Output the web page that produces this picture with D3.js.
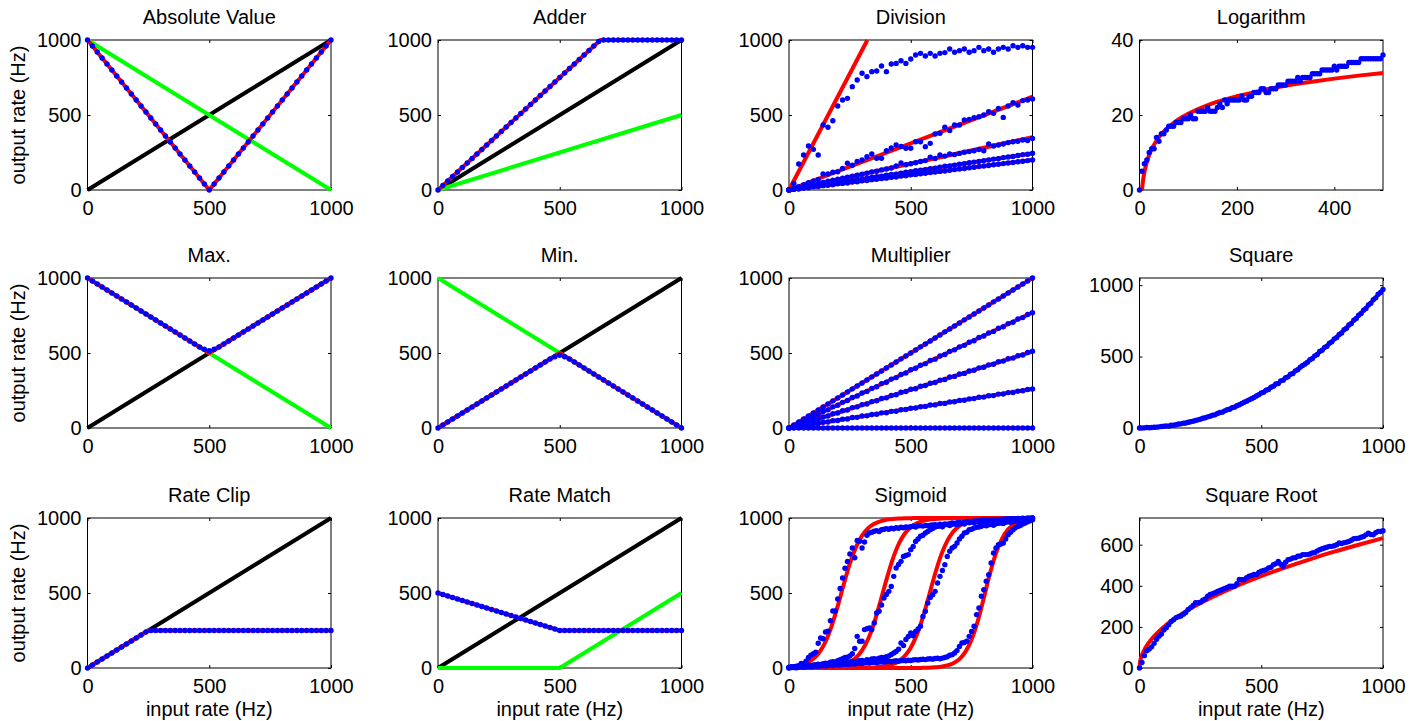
<!DOCTYPE html>
<html>
<head>
<meta charset="utf-8">
<script src="https://cdn.jsdelivr.net/npm/d3@7"></script>
<style>
  body { margin: 0; background: #fff; }
  svg { display: block; }
</style>
</head>
<body>
<svg id="chart" width="1423" height="721"></svg>
<script>
// sample grids (input rate, Hz)
const x20 = [0,20,40,60,80,100,120,140,160,180,200,220,240,260,280,300,320,340,360,380,400,420,440,460,480,500,520,540,560,580,600,620,640,660,680,700,720,740,760,780,800,820,840,860,880,900,920,940,960,980,1000];
const x10 = [0,10,20,30,40,50,60,70,80,90,100,110,120,130,140,150,160,170,180,190,200,210,220,230,240,250,260,270,280,290,300,310,320,330,340,350,360,370,380,390,400,410,420,430,440,450,460,470,480,490,500,510,520,530,540,550,560,570,580,590,600,610,620,630,640,650,660,670,680,690,700,710,720,730,740,750,760,770,780,790,800,810,820,830,840,850,860,870,880,890,900,910,920,930,940,950,960,970,980,990,1000];
const x5 = [0,5,10,15,20,25,30,35,40,45,50,55,60,65,70,75,80,85,90,95,100,105,110,115,120,125,130,135,140,145,150,155,160,165,170,175,180,185,190,195,200,205,210,215,220,225,230,235,240,245,250,255,260,265,270,275,280,285,290,295,300,305,310,315,320,325,330,335,340,345,350,355,360,365,370,375,380,385,390,395,400,405,410,415,420,425,430,435,440,445,450,455,460,465,470,475,480,485,490,495,500];
const x25 = [0,25,50,75,100,125,150,175,200,225,250,275,300,325,350,375,400,425,450,475,500,525,550,575,600,625,650,675,700,725,750,775,800,825,850,875,900,925,950,975,1000];

// input lines (black = input A, green = input B)
const endX = [0,1000];
const riseY = [0,1000];
const fallY = [1000,0];
const adderGreenY = [0,500];
const matchGreenX = [0,500,1000];
const matchGreenY = [0,0,500];

// expected outputs (red)
const absRedX = [0,500,1000], absRedY = [1000,0,1000];
const adderRedX = [0,667,1000], adderRedY = [0,1000,1000];
const maxRedX = [0,500,1000], maxRedY = [1000,500,1000];
const minRedX = [0,500,1000], minRedY = [0,500,0];
const clipRedX = [0,250,1000], clipRedY = [0,250,250];
const matchRedX = [0,500,1000], matchRedY = [500,250,250];
const divRed1X = [0,322], divRed1Y = [0,1000];
const divRed2Y = [0,622], divRed3Y = [0,352], divRed4Y = [0,244], divRed5Y = [0,200];
const mulRed1Y = [0,1000], mulRed2Y = [0,770], mulRed3Y = [0,510], mulRed4Y = [0,260], mulRed5Y = [0,0];
const logRedX = [5,7,10,15,20,30,40,50,75,100,150,200,250,300,350,400,450,500];
const logRedY = [0,2.3,4.7,7.4,9.4,12.1,14.1,15.6,18.4,20.3,23.1,25.0,26.5,27.8,28.8,29.7,30.5,31.2];
const sqRedX = [0,100,200,300,400,500,600,700,800,900,1000];
const sqRedY = [0,10,39,87,155,243,349,476,621,786,970];
const sqrtRedX = [0,2,5,10,25,50,100,150,200,300,400,500,600,700,800,900,1000];
const sqrtRedY = [0,28,45,63,100,141,200,245,283,346,400,447,490,529,566,600,632];
const sigRed1 = [6,11,19,34,61,105,175,279,412,559,697,806,883,932,961,978,988,993,996,998,999,1000,1000,1000,1000,1000,1000,1000,1000,1000,1000,1000,1000,1000,1000,1000,1000,1000,1000,1000,1000];
const sigRed2 = [0,0,0,1,1,2,4,7,12,22,39,68,117,193,303,441,588,721,825,895,939,965,981,989,994,997,998,999,1000,1000,1000,1000,1000,1000,1000,1000,1000,1000,1000,1000,1000];
const sigRed3 = [0,0,0,0,0,0,0,0,0,0,0,0,1,2,4,8,14,25,45,79,135,221,339,482,628,754,847,910,948,971,984,991,995,997,999,1000,1000,1000,1000,1000,1000];
const sigRed4 = [0,0,0,0,0,0,0,0,0,0,0,0,0,0,0,0,0,0,0,0,0,0,1,2,5,9,17,32,59,109,190,312,467,628,766,863,924,959,979,989,994];

// measured outputs (blue dots)
const absDots = [1000,960,920,880,840,800,760,720,680,640,600,560,520,480,440,400,360,320,280,240,200,160,120,80,40,0,40,80,120,160,200,240,280,320,360,400,440,480,520,560,600,640,680,720,760,800,840,880,920,960,1000];
const adderDots = [0,30,60,90,120,150,180,210,240,270,300,330,360,390,420,450,480,510,540,570,600,630,660,690,720,750,780,810,840,870,900,930,960,990,1000,1000,1000,1000,1000,1000,1000,1000,1000,1000,1000,1000,1000,1000,1000,1000,1000];
const maxDots = [1000,980,960,940,920,900,880,860,840,820,800,780,760,740,720,700,680,660,640,620,600,580,560,540,525,515,525,540,560,580,600,620,640,660,680,700,720,740,760,780,800,820,840,860,880,900,920,940,960,980,1000];
const minDots = [0,20,40,60,80,100,120,140,160,180,200,220,240,260,280,300,320,340,360,380,400,420,440,460,475,485,475,460,440,420,400,380,360,340,320,300,280,260,240,220,200,180,160,140,120,100,80,60,40,20,0];
const clipDots = [0,20,40,60,80,100,120,140,160,180,200,220,240,250,250,250,250,250,250,250,250,250,250,250,250,250,250,250,250,250,250,250,250,250,250,250,250,250,250,250,250,250,250,250,250,250,250,250,250,250,250];
const matchDots = [500,490,480,470,460,450,440,430,420,410,400,390,380,370,360,350,340,330,320,310,300,290,280,270,260,250,250,250,250,250,250,250,250,250,250,250,250,250,250,250,250,250,250,250,250,250,250,250,250,250,250];
const divDots1 = [0,44,173,233,293,271,233,433,418,462,560,600,611,689,733,778,756,789,793,827,789,840,844,862,844,873,900,911,893,911,893,911,916,940,918,929,940,918,929,951,929,940,918,940,951,940,962,951,962,951,951];
const divDots2 = [0,10,22,35,48,60,70,107,107,118,122,144,178,165,190,200,222,240,211,211,262,280,300,290,278,278,322,322,289,311,373,378,418,396,433,433,467,471,482,489,500,522,511,544,484,560,582,567,596,600,607];
const divDots3 = [0,8,15,22,30,36,42,50,58,66,72,78,85,92,98,105,112,120,125,134,140,147,160,180,168,175,182,190,196,218,210,233,226,240,236,244,252,256,262,270,262,307,293,300,307,316,322,325,333,330,344];
const divDots4 = [0,5,10,15,19,24,30,34,40,44,50,54,58,64,70,73,78,84,88,92,98,104,106,112,118,122,128,132,136,142,146,152,158,160,166,172,176,182,186,190,196,200,206,208,216,220,224,230,236,238,245];
const divDots5 = [0,5,7,13,15,21,23,29,32,35,41,44,47,53,55,61,63,69,71,77,79,85,87,93,95,101,103,108,112,116,120,124,127,132,136,140,143,148,152,156,160,163,168,172,176,180,183,188,192,196,200];
const mulDots1 = [0,20,40,61,80,100,121,140,160,181,200,220,240,261,280,300,320,341,360,380,400,420,440,461,480,500,520,541,560,580,600,620,641,660,680,700,721,740,760,780,800,820,841,860,880,900,920,940,960,980,1000];
const mulDots2 = [0,16,29,48,60,79,90,110,121,141,152,171,183,203,213,233,244,264,275,296,305,326,336,357,367,388,398,418,429,450,459,480,490,511,521,541,551,572,582,603,613,634,644,665,675,696,705,727,736,757,768];
const mulDots3 = [0,11,19,33,39,53,59,74,80,95,100,115,120,136,141,156,160,176,182,197,201,217,222,238,243,258,262,278,283,299,303,319,323,340,344,360,364,380,385,401,405,421,425,442,446,462,466,482,487,503,512];
const mulDots4 = [0,6,9,18,20,28,30,38,40,49,50,59,60,70,71,80,81,90,92,101,102,111,112,122,123,132,133,142,144,153,154,163,164,174,175,184,185,194,196,205,206,215,216,226,227,236,237,246,248,257,260];
const mulDots5 = [0,0,0,0,0,0,0,0,0,0,0,0,0,0,0,0,0,0,0,0,0,0,0,0,0,0,0,0,0,0,0,0,0,0,0,0,0,0,0,0,0,0,0,0,0,0,0,0,0,0,0];
const logDots = [0,5,7,8,10,11,11,14,13,15, 15,16,17,17,17,18,18,18,19,19, 19,20,19,19,21,21,21,21,22,21, 21,21,22,23,22,24,23,24,24,24, 24,24,25,24,24,25,25,26,26,26, 27,27,26,26,27,27,27,28,28,28, 28,29,29,29,29,30,29,30,30,30, 30,31,31,31,31,32,32,32,32,32, 33,32,33,33,33,33,34,34,34,34, 34,35,35,35,35,35,35,35,35,35, 36];
const sqDots = [0,0,1,3,2,4,5,6,8,10, 12,15,13,19,20,23,28,29,34,35, 40,44,48,52,57,62,68,72,78,83, 90,92,101,108,111,120,128,131,142,146, 156,163,172,180,188,197,205,214,224,233, 245,250,264,270,285,292,308,312,330,335, 352,358,376,382,400,408,426,438,448,460, 478,487,505,515,535,544,563,572,593,603, 624,634,655,665,688,698,721,732,755,766, 789,801,825,837,861,873,898,911,936,948, 970];
const sqrtDots = [0,27,60,84,92,103,120,140,155,165, 185,196,210,226,235,245,250,253,262,270, 285,294,305,318,318,320,330,336,350,358, 362,366,372,377,382,387,392,398,398,398, 410,431,430,431,440,447,450,455,455,465, 471,475,479,487,490,503,508,519,505,495, 515,527,530,535,537,544,545,552,552,552, 555,560,562,570,576,580,584,588,592,592, 595,600,608,606,610,612,616,622,629,630, 632,636,640,648,656,650,648,658,665,664, 668];
const sigDots1 = [5,8,3,12,15,30,28,45,70,85, 95,105,165,200,195,240,245,315,380,380, 460,530,600,665,710,760,800,735,850,845, 800,840,885,900,905,912,916,910,922,925, 929,925,932,928,935,932,938,935,940,938, 942,945,940,948,949,946,950,948,952,954, 956,952,958,955,960,958,962,967,963,968, 970,966,972,975,978,974,980,978,982,985, 988,985,989,986,990,988,991,990,992,993, 995,993,996,995,997,996,998,997,998,999, 1000];
const sigDots2 = [3,5,8,6,10,12,10,15,18,16, 20,22,25,24,28,32,30,38,42,40, 48,55,62,70,72,80,95,130,211,178, 178,256,262,267,256,300,367,378,420,467, 490,511,544,611,667,690,711,744,750,756, 789,810,844,860,878,885,900,910,922,930, 940,944,948,942,955,956,950,958,962,957, 962,966,960,970,968,973,970,976,972,978, 978,982,979,984,985,983,988,986,990,991, 992,990,994,995,993,996,997,996,998,999, 1000];
const sigDots3 = [2,4,6,3,8,10,8,12,14,12, 16,18,15,20,22,20,25,24,28,30, 28,32,35,33,38,40,42,40,45,48, 50,45,55,52,60,62,58,65,70,68, 75,80,90,100,110,125,167,150,190,210, 233,215,244,260,278,344,378,433,470,489, 511,567,611,650,689,744,778,800,811,833, 860,878,900,905,922,925,933,938,940,945, 951,948,955,958,952,962,965,967,963,972, 975,971,978,980,982,985,988,990,993,995, 997];
const sigDots4 = [0,3,5,2,6,8,5,9,10,8, 12,14,11,15,16,14,18,20,17,21, 22,20,24,26,23,27,28,26,30,32, 30,34,35,33,37,38,36,40,42,39, 43,45,42,46,48,45,49,50,48,52, 50,54,56,53,57,58,56,60,62,59, 63,65,62,66,70,75,85,89,100,116, 144,167,170,178,211,244,278,356,400,478, 522,578,622,700,767,800,822,827,833,860, 889,905,922,935,944,950,960,967,975,982, 989];

// panel titles and axis ticks
const titles = ['Absolute Value','Adder','Division','Logarithm','Max.','Min.','Multiplier','Square','Rate Clip','Rate Match','Sigmoid','Square Root'];
const ticks1000 = [0,500,1000];
const logXTicks = [0,200,400], logYTicks = [0,20,40];
const sqrtYTicks = [0,200,400,600];

const BLACK = '#000000', GREEN = '#00ff00', RED = '#ff0000', BLUE = '#0000ff';
const FONT = '"Liberation Sans", Arial, Helvetica, sans-serif';

function ln(xs, ys, color, smooth) { return {xs, ys, color, smooth: !!smooth}; }
function dots(xs, ys) { return {xs, ys}; }

const panels = [
  {xd:[0,1000], yd:[0,1000], xt:ticks1000, yt:ticks1000,
   lines:[ln(endX, riseY, BLACK), ln(endX, fallY, GREEN), ln(absRedX, absRedY, RED)],
   dots:[dots(x20, absDots)]},
  {xd:[0,1000], yd:[0,1000], xt:ticks1000, yt:ticks1000,
   lines:[ln(endX, riseY, BLACK), ln(endX, adderGreenY, GREEN), ln(adderRedX, adderRedY, RED)],
   dots:[dots(x20, adderDots)]},
  {xd:[0,1000], yd:[0,1000], xt:ticks1000, yt:ticks1000,
   lines:[ln(divRed1X, divRed1Y, RED), ln(endX, divRed2Y, RED), ln(endX, divRed3Y, RED), ln(endX, divRed4Y, RED), ln(endX, divRed5Y, RED)],
   dots:[dots(x20, divDots1), dots(x20, divDots2), dots(x20, divDots3), dots(x20, divDots4), dots(x20, divDots5)]},
  {xd:[0,500], yd:[0,40], xt:logXTicks, yt:logYTicks,
   lines:[ln(logRedX, logRedY, RED, true)],
   dots:[dots(x5, logDots)]},
  {xd:[0,1000], yd:[0,1000], xt:ticks1000, yt:ticks1000,
   lines:[ln(endX, riseY, BLACK), ln(endX, fallY, GREEN), ln(maxRedX, maxRedY, RED)],
   dots:[dots(x20, maxDots)]},
  {xd:[0,1000], yd:[0,1000], xt:ticks1000, yt:ticks1000,
   lines:[ln(endX, riseY, BLACK), ln(endX, fallY, GREEN), ln(minRedX, minRedY, RED)],
   dots:[dots(x20, minDots)]},
  {xd:[0,1000], yd:[0,1000], xt:ticks1000, yt:ticks1000,
   lines:[ln(endX, mulRed1Y, RED), ln(endX, mulRed2Y, RED), ln(endX, mulRed3Y, RED), ln(endX, mulRed4Y, RED), ln(endX, mulRed5Y, RED)],
   dots:[dots(x20, mulDots1), dots(x20, mulDots2), dots(x20, mulDots3), dots(x20, mulDots4), dots(x20, mulDots5)]},
  {xd:[0,1000], yd:[0,1050], xt:ticks1000, yt:ticks1000,
   lines:[ln(sqRedX, sqRedY, RED, true)],
   dots:[dots(x10, sqDots)]},
  {xd:[0,1000], yd:[0,1000], xt:ticks1000, yt:ticks1000,
   lines:[ln(endX, riseY, BLACK), ln(clipRedX, clipRedY, RED)],
   dots:[dots(x20, clipDots)]},
  {xd:[0,1000], yd:[0,1000], xt:ticks1000, yt:ticks1000,
   lines:[ln(endX, riseY, BLACK), ln(matchGreenX, matchGreenY, GREEN), ln(matchRedX, matchRedY, RED)],
   dots:[dots(x20, matchDots)]},
  {xd:[0,1000], yd:[0,1000], xt:ticks1000, yt:ticks1000,
   lines:[ln(x25, sigRed1, RED, true), ln(x25, sigRed2, RED, true), ln(x25, sigRed3, RED, true), ln(x25, sigRed4, RED, true)],
   dots:[dots(x10, sigDots1), dots(x10, sigDots2), dots(x10, sigDots3), dots(x10, sigDots4)]},
  {xd:[0,1000], yd:[0,730], xt:ticks1000, yt:sqrtYTicks,
   lines:[ln(sqrtRedX, sqrtRedY, RED, true)],
   dots:[dots(x10, sqrtDots)]}
];

// layout
const lefts = [87.5, 438, 789, 1139.5];
const tops = [40, 278, 518];
const W = 243.5, H = 150;
const fmt = d3.format('d');

const svg = d3.select('#chart');
svg.append('rect').attr('width', 1423).attr('height', 721).attr('fill', '#fff');

panels.forEach((p, i) => {
    const col = i % 4, row = Math.floor(i / 4);
    const g = svg.append('g').attr('transform', `translate(${lefts[col]},${tops[row]})`);

    const x = d3.scaleLinear().domain(p.xd).range([0, W]);
    const y = d3.scaleLinear().domain(p.yd).range([H, 0]);

    g.append('rect')
        .attr('width', W).attr('height', H)
        .attr('fill', 'none').attr('stroke', '#000').attr('stroke-width', 1);

    // ticks on all four sides, pointing inward (labels on left and bottom only)
    const axes = [
        {a: d3.axisBottom(x).tickValues(p.xt).tickFormat(fmt).tickPadding(11), t: `translate(0,${H})`},
        {a: d3.axisTop(x).tickValues(p.xt).tickFormat(() => ''), t: 'translate(0,0)'},
        {a: d3.axisLeft(y).tickValues(p.yt).tickFormat(fmt).tickPadding(6), t: 'translate(0,0)'},
        {a: d3.axisRight(y).tickValues(p.yt).tickFormat(() => ''), t: `translate(${W},0)`}
    ];
    axes.forEach(ax => {
        const ag = g.append('g').attr('transform', ax.t)
            .call(ax.a.tickSize(-3))
            .attr('font-size', 20)
            .attr('font-family', FONT);
        ag.select('.domain').remove();
        ag.selectAll('text').attr('fill', '#000');
    });

    // lines
    p.lines.forEach(s => {
        const pts = s.xs.map((v, k) => [v, s.ys[k]]);
        const line = d3.line()
            .x(d => x(d[0]))
            .y(d => y(d[1]))
            .curve(s.smooth ? d3.curveMonotoneX : d3.curveLinear);
        g.append('path')
            .datum(pts)
            .attr('d', line)
            .attr('fill', 'none')
            .attr('stroke', s.color)
            .attr('stroke-width', 4)
            .attr('stroke-linejoin', 'round');
    });

    // measured points
    p.dots.forEach(s => {
        const pts = s.xs.map((v, k) => [v, s.ys[k]]);
        g.append('g').selectAll('circle')
            .data(pts)
            .enter().append('circle')
            .attr('cx', d => x(d[0]))
            .attr('cy', d => y(d[1]))
            .attr('r', 2.7)
            .attr('fill', BLUE);
    });

    // title
    g.append('text')
        .attr('x', W / 2)
        .attr('y', -16)
        .attr('text-anchor', 'middle')
        .attr('font-family', FONT)
        .attr('font-size', 20)
        .text(titles[i]);

    if (col === 0) {
        g.append('text')
            .attr('transform', `translate(${25 - lefts[0]},${H / 2}) rotate(-90)`)
            .attr('text-anchor', 'middle')
            .attr('font-family', FONT)
            .attr('font-size', 20)
            .text('output rate (Hz)');
    }
    if (row === 2) {
        g.append('text')
            .attr('x', W / 2)
            .attr('y', H + 48)
            .attr('text-anchor', 'middle')
            .attr('font-family', FONT)
            .attr('font-size', 20)
            .text('input rate (Hz)');
    }
});
</script>
</body>
</html>
